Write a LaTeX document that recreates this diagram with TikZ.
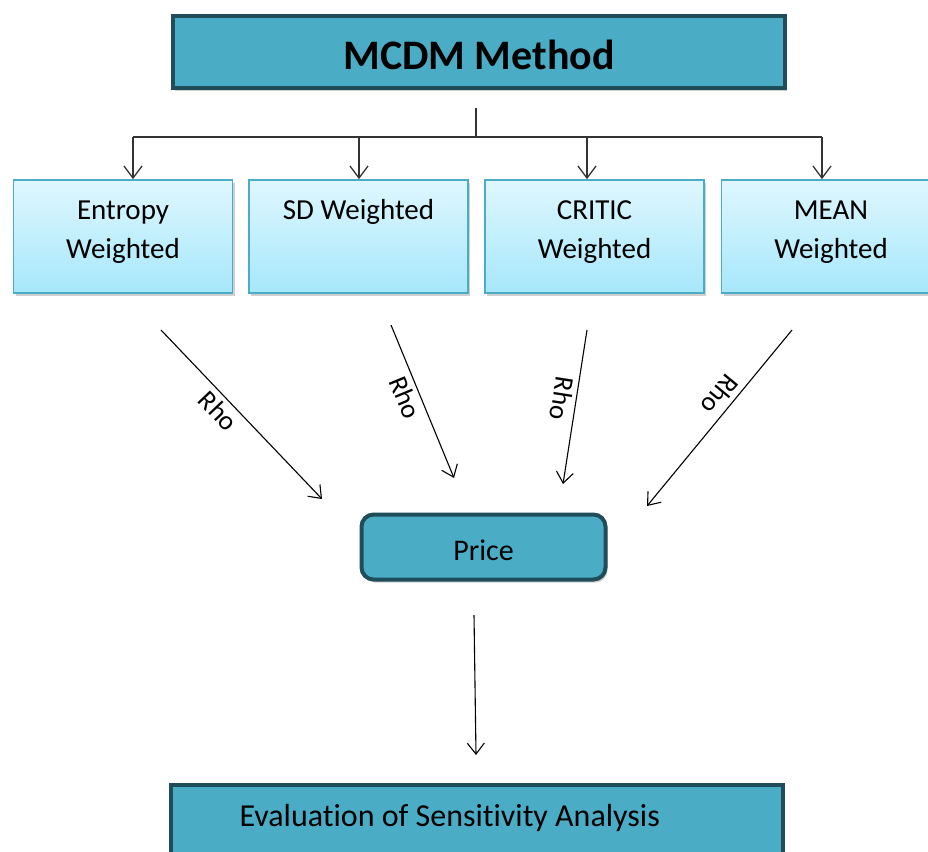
\documentclass[tikz,border=0pt]{standalone}
\usepackage{fontspec}
\setmainfont{Carlito}[Ligatures=CommonOff]
\usetikzlibrary{arrows.meta,shadows}
\definecolor{tealfill}{HTML}{4BACC6}
\definecolor{tealdark}{HTML}{1F4E5A}
\definecolor{lighttop}{HTML}{DFF7FE}
\definecolor{lightbot}{HTML}{A6E7FB}
\definecolor{connector}{HTML}{333333}
\begin{document}
\begin{tikzpicture}[x=1pt,y=-1pt,
  shade/.style={drop shadow={shadow xshift=2pt,shadow yshift=-3pt,opacity=0.3,fill=black!60}},
  darkbox/.style={draw=tealdark,line width=4pt,fill=tealfill,inner sep=0pt,shade},
  wbox/.style={draw=tealfill,line width=1.8pt,top color=lighttop,bottom color=lightbot,
    inner sep=0pt,minimum width=219pt,minimum height=113pt,shade},
  treeline/.style={draw=connector,line width=1.4pt},
  treearrow/.style={treeline,-{Straight Barb[length=12pt,width=18pt,line width=1.3pt]}},
  rhoarrow/.style={draw=black,line width=1.1pt,-{Straight Barb[length=11pt,width=17pt,line width=1.1pt]}},
  rholabel/.style={font=\fontsize{27}{30}\selectfont,sloped,allow upside down,below,inner sep=4pt}
]
\useasboundingbox (0,0) rectangle (928,851);
\fill[white] (0,0) rectangle (928,851);

% top box
\node[darkbox,minimum width=612pt,minimum height=72pt,
  font=\fontsize{42}{48}\selectfont\bfseries,text height=34pt,text depth=0pt] (mcdm) at (479,52) {MCDM Method};

% tree connectors
\coordinate (split) at (476,108);
\coordinate (bar) at (476,137);
\coordinate (barL) at (133,137);
\coordinate (barR) at (822,137);

% weighted boxes
\newcommand{\boxtext}[1]{\parbox[c][113pt][t]{210pt}{\centering\fontsize{29}{39}\selectfont\rule{0pt}{39pt}#1}}
\node[wbox] (ent) at (123,236.5) {\boxtext{Entropy\\Weighted}};
\node[wbox] (sd) at (358.5,236.5) {\boxtext{SD Weighted}};
\node[wbox] (crit) at (594.5,236.5) {\boxtext{CRITIC\\Weighted}};
\node[wbox] (mean) at (831,236.5) {\boxtext{MEAN\\Weighted}};

\draw[treeline] (split) -- (bar);
\draw[treeline] (barL) -- (barR);
\draw[treearrow] (barL) -- (barL |- ent.north);
\draw[treearrow] (359,137) -- (359,0 |- sd.north);
\draw[treearrow] (587,137) -- (587,0 |- crit.north);
\draw[treearrow] (barR) -- (barR |- mean.north);

% price
\node[darkbox,rounded corners=12pt,minimum width=244pt,minimum height=65pt,
  font=\fontsize{30}{36}\selectfont,text height=27pt,text depth=0pt] (price) at (483.5,547) {Price};

% rho arrows
\coordinate (r1s) at (161,330); \coordinate (r1e) at (322,499);
\coordinate (r2s) at (391,325); \coordinate (r2e) at (454,478);
\coordinate (r3s) at (587,330); \coordinate (r3e) at (563,484);
\coordinate (r4s) at (792,330); \coordinate (r4e) at (647,506);
\draw[rhoarrow] (r1s) -- node[rholabel,pos=0.42] (rho1) {Rho} (r1e);
\draw[rhoarrow] (r2s) -- node[rholabel,pos=0.44] (rho2) {Rho} (r2e);
\draw[rhoarrow] (r3s) -- node[rholabel,pos=0.46] (rho3) {Rho} (r3e);
\draw[rhoarrow] (r4s) -- node[rholabel,pos=0.42] (rho4) {Rho} (r4e);

% bottom
\node[darkbox,minimum width=612pt,minimum height=90pt,anchor=north west] (eval) at (169,783) {};
\node[font=\fontsize{32}{38}\selectfont,anchor=base west] (evaltext) at (236,826) {Evaluation of Sensitivity Analysis};

\coordinate (ps) at (474,615);
\draw[rhoarrow] (ps) -- (476,755);
\end{tikzpicture}
\end{document}
